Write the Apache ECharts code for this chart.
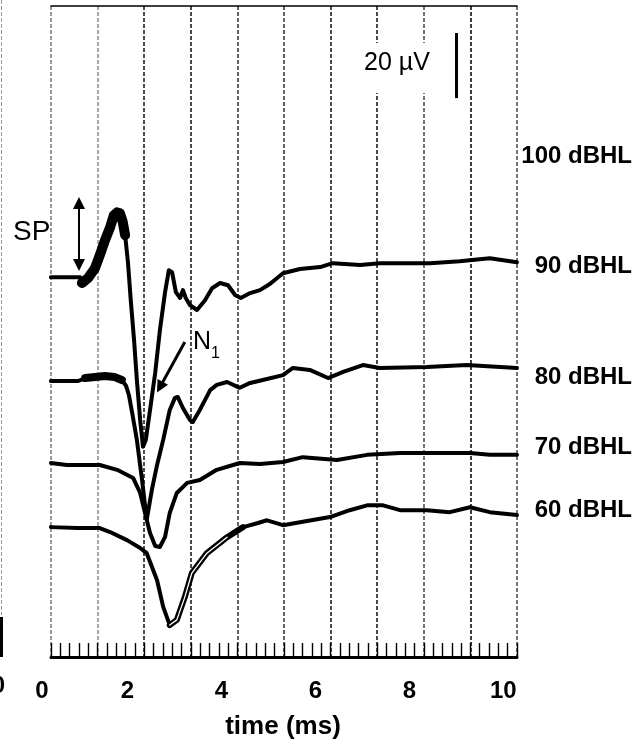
<!DOCTYPE html>
<html>
<head>
    <meta charset="utf-8">
    <title>CAP traces vs. level</title>
    <script src="https://cdn.jsdelivr.net/npm/echarts@6/dist/echarts.min.js"></script>
</head>
<body style="margin:0">
    <div id="main" style="width:635px;height:743px;"></div>
    <script type="text/javascript">
        // [time (ms), amplitude (uV) relative to the trace's own baseline]
        var trace90 = [[0.37,0],[0.99,0],[1.03,-1.8],[1.16,-0.3],[1.31,2.8],[1.41,6.7],[1.52,11.3],[1.63,15.3],[1.71,19.0],[1.78,19.9],[1.84,19.6],[1.90,16.9],[1.95,12.9],[2.01,4.6],[2.07,-7.1],[2.14,-19.3],[2.20,-31.6],[2.27,-43.9],[2.33,-52.1],[2.39,-50.0],[2.48,-40.8],[2.59,-29.4],[2.69,-16.3],[2.80,-4.6],[2.88,2.1],[2.95,1.5],[3.03,-4.6],[3.12,-6.4],[3.18,-4.0],[3.24,-6.4],[3.33,-8.6],[3.48,-10.1],[3.65,-7.1],[3.80,-3.4],[3.97,-1.8],[4.14,-2.5],[4.29,-5.5],[4.41,-6.4],[4.61,-4.9],[4.82,-4.0],[5.03,-2.1],[5.31,1.2],[5.67,2.5],[6.10,3.1],[6.37,4.3],[6.95,3.7],[7.37,4.3],[7.80,4.3],[8.44,4.3],[9.07,4.9],[9.71,5.8],[10.29,4.6]];
        var trace80 = [[0.37,0],[0.95,0],[1.10,0.9],[1.31,1.2],[1.52,1.5],[1.73,1.2],[1.88,0.3],[1.97,-1.5],[2.03,-4.3],[2.10,-9.8],[2.20,-18.1],[2.31,-30.4],[2.41,-42.6],[2.52,-33.4],[2.63,-25.8],[2.76,-18.1],[2.90,-8.9],[3.01,-5.2],[3.07,-4.9],[3.18,-8.3],[3.33,-12.0],[3.39,-12.6],[3.54,-8.9],[3.76,-2.8],[3.90,-1.2],[4.12,-0.3],[4.39,-2.1],[4.61,-0.6],[4.88,0.3],[5.31,1.8],[5.52,4.0],[5.88,3.4],[6.27,0.9],[6.59,2.8],[7.01,4.9],[7.37,4.0],[8.37,4.3],[9.22,4.9],[10.29,4.0]];
        var trace70 = [[0.37,0],[0.71,-0.6],[1.41,-0.6],[1.78,-2.1],[2.12,-4.6],[2.27,-9.2],[2.41,-17.5],[2.48,-21.5],[2.59,-25.5],[2.69,-25.8],[2.80,-22.7],[2.90,-15.3],[3.05,-9.2],[3.27,-6.1],[3.54,-5.2],[3.90,-2.1],[4.39,0],[4.82,-0.3],[5.31,0.3],[5.73,1.8],[6.46,0.9],[7.10,2.5],[7.80,3.1],[8.37,3.1],[9.29,3.1],[9.71,2.5],[10.29,2.5]];
        var trace60 = [[0.37,0],[0.93,-0.3],[1.41,-0.3],[1.63,-1.5],[1.99,-4.0],[2.27,-6.4],[2.41,-8.0],[2.63,-16.3],[2.76,-24.5],[2.90,-30.1],[3.05,-28.5],[3.22,-21.5],[3.37,-14.1],[3.69,-8.0],[4.12,-3.1],[4.46,0],[4.76,1.2],[4.97,2.1],[5.31,0.6],[5.67,1.5],[6.31,3.1],[6.73,5.2],[7.10,6.7],[7.44,6.7],[7.80,5.2],[8.37,5.2],[8.86,4.6],[9.29,6.1],[9.71,4.6],[10.29,3.7]];
        // vertical offset of each trace (uV)
        var baselines = [116.7, 84.8, 59.6, 39.9];
        var levelLabels = ['100 dBHL', '90 dBHL', '80 dBHL', '70 dBHL', '60 dBHL'];
        var timeLabels = [0, 2, 4, 6, 8, 10];
        // scale bar: 20 uV
        var scaleBar = [[9.0, 191.7], [9.0, 171.7]];
        var spArrow = [[0.968, 139.5], [0.968, 120.4]];
        var n1Arrow = [[3.22, 96.8], [2.69, 82.9]];

        var labelY = [156, 266, 377, 447, 510];
        var FONT = '"Liberation Sans", Arial, sans-serif';

        function shift(pts, base) {
            return pts.map(function (p) { return [p[0], p[1] + base]; });
        }
        function part(pts, t0, t1) {
            return pts.filter(function (p) { return p[0] >= t0 && p[0] <= t1; });
        }
        function lineSeries(data, width, color, z) {
            return {
                type: 'line', xAxisIndex: 0, yAxisIndex: 0,
                data: data, showSymbol: false, symbol: 'none', silent: true, z: z,
                lineStyle: { color: color, width: width, cap: 'round', join: 'round' }
            };
        }

        var traces = [trace90, trace80, trace70, trace60];
        var series = [];
        traces.forEach(function (pts, i) {
            series.push(lineSeries(shift(pts, baselines[i]), 4, '#000', 3));
        });
        // noisy parts and the doubled recording
        series.push(lineSeries(part(shift(trace90, baselines[0]), 1.0, 1.96), 10, '#000', 3));
        series.push(lineSeries(part(shift(trace80, baselines[1]), 1.08, 1.9), 8, '#000', 3));
        series.push(lineSeries(part(shift(trace60, baselines[3]), 2.85, 4.46), 6, '#000', 3));
        series.push(lineSeries(part(shift(trace60, baselines[3]), 2.9, 4.2), 1.3, '#fff', 4));

        // annotations
        series[0].markLine = {
            silent: true, animation: false,
            symbol: ['triangle', 'triangle'], symbolSize: 12,
            label: { show: false },
            lineStyle: { color: '#000', width: 2, type: 'solid' },
            data: [
                [{ coord: spArrow[0] }, { coord: spArrow[1] }],
                [{ coord: n1Arrow[0], symbol: 'none' }, { coord: n1Arrow[1], symbol: 'triangle', lineStyle: { width: 3 } }]
            ]
        };
        series[2].markLine = {
            silent: true, animation: false, symbol: 'none',
            label: { show: false },
            lineStyle: { color: '#000', width: 3, type: 'solid' },
            data: [[{ coord: scaleBar[0] }, { coord: scaleBar[1] }]]
        };

        var graphic = [
            { type: 'rect', shape: { x: 352, y: 43, width: 96, height: 50 }, style: { fill: '#fff' }, z: 10 },
            { type: 'text', x: 397, y: 63, z: 11, style: { text: '20 µV', font: '25px ' + FONT, fill: '#000', textAlign: 'center', textVerticalAlign: 'middle', align: 'center', verticalAlign: 'middle' } },
            { type: 'text', x: 13, y: 232, z: 11, style: { text: 'SP', font: '28px ' + FONT, fill: '#000', textAlign: 'left', textVerticalAlign: 'middle', align: 'left', verticalAlign: 'middle' } },
            { type: 'text', x: 193, y: 342, z: 11, style: { text: 'N', font: '25px ' + FONT, fill: '#000', textAlign: 'left', textVerticalAlign: 'middle', align: 'left', verticalAlign: 'middle' } },
            { type: 'text', x: 211, y: 354, z: 11, style: { text: '1', font: '16px ' + FONT, fill: '#000', textAlign: 'left', textVerticalAlign: 'middle', align: 'left', verticalAlign: 'middle' } },
            { type: 'text', x: 283, y: 727, z: 11, style: { text: 'time (ms)', font: 'bold 26px ' + FONT, fill: '#000', textAlign: 'center', textVerticalAlign: 'middle', align: 'center', verticalAlign: 'middle' } },
            // edge of the neighbouring panel
            { type: 'line', shape: { x1: 1.5, y1: 0, x2: 1.5, y2: 615 }, style: { stroke: '#999', lineWidth: 1, lineDash: [4, 2] }, z: 10 },
            { type: 'rect', shape: { x: 0, y: 617, width: 3, height: 40 }, style: { fill: '#000' }, z: 10 },
            { type: 'text', x: 5, y: 686, z: 11, style: { text: '10', font: 'bold 24px ' + FONT, fill: '#000', textAlign: 'right', textVerticalAlign: 'middle', align: 'right', verticalAlign: 'middle' } }
        ];
        levelLabels.forEach(function (s, i) {
            graphic.push({ type: 'text', x: 632, y: labelY[i], z: 11, style: { text: s, font: 'bold 24px ' + FONT, fill: '#000', textAlign: 'right', textVerticalAlign: 'middle', align: 'right', verticalAlign: 'middle' } });
        });

        var myChart = echarts.init(document.getElementById('main'));
        var option = {
            animation: false,
            backgroundColor: '#fff',
            grid: [
                { left: 33.5, right: 118, top: 6, bottom: 86 },
                { left: 51, right: 118, top: 6, bottom: 86 }
            ],
            xAxis: [
                {
                    gridIndex: 0, type: 'value', min: 0, max: 10.29, interval: 2,
                    axisLine: { show: false }, axisTick: { show: false }, splitLine: { show: false },
                    axisLabel: {
                        color: '#000', fontFamily: FONT, fontWeight: 'bold', fontSize: 24, margin: 22,
                        formatter: function (v) {
                            var k = Math.round(v);
                            if (Math.abs(v - k) > 1e-6 || timeLabels.indexOf(k) < 0) return '';
                            return k === 0 ? '{z|0}' : String(k);
                        },
                        rich: { z: { color: '#000', fontFamily: FONT, fontWeight: 'bold', fontSize: 24, padding: [0, 0, 18, 17] } }
                    }
                },
                {
                    gridIndex: 1, type: 'value', min: 0, max: 10, interval: 1,
                    axisLine: { show: true, lineStyle: { color: '#000', width: 3 } },
                    axisTick: { show: true, inside: true, length: 14, lineStyle: { color: '#000', width: 1.4 } },
                    minorTick: { show: true, splitNumber: 5, length: 14, lineStyle: { color: '#000', width: 1.4 } },
                    splitLine: { show: true, lineStyle: { type: [4, 2], width: 1.5, color: ['#777', '#888', '#111', '#111', '#333', '#333', '#111', '#111', '#444', '#000', '#444'] } },
                    axisLabel: { show: false }
                },
                {
                    gridIndex: 1, type: 'value', position: 'top', min: 0, max: 10,
                    axisLine: { show: true, lineStyle: { color: '#000', width: 1.5 } },
                    axisTick: { show: false }, axisLabel: { show: false }, splitLine: { show: false }
                }
            ],
            yAxis: [
                { gridIndex: 0, type: 'value', min: 0, max: 200, show: false },
                { gridIndex: 1, type: 'value', min: 0, max: 1, show: false }
            ],
            graphic: graphic,
            series: series
        };
        myChart.setOption(option);
    </script>
</body>
</html>
